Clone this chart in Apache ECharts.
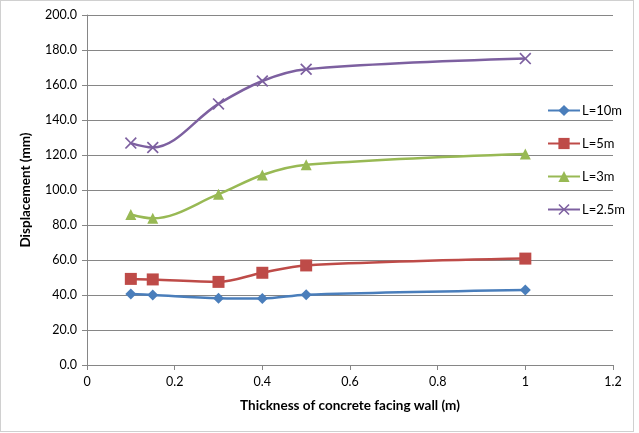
<!DOCTYPE html>
<html><head><meta charset="utf-8">
<script src="https://cdn.jsdelivr.net/npm/echarts@6/dist/echarts.min.js"></script>
<style>html,body{margin:0;padding:0;background:#fff}#c{width:639px;height:433px;position:absolute;left:0;top:0}#b{position:absolute;left:0;top:0;width:632px;height:430px;border:1px solid #d0d0d0;pointer-events:none}</style>
</head><body><div id="c"></div><div id="b"></div>
<script>
const xValues = [0.1, 0.15, 0.3, 0.4, 0.5, 1.0];
const seriesNames = ['L=10m', 'L=5m', 'L=3m', 'L=2.5m'];
const l10 = [40.6, 40.0, 38.2, 38.0, 40.2, 42.9];
const l5 = [49.2, 48.9, 47.5, 52.7, 56.9, 60.8];
const l3 = [86.0, 83.8, 97.6, 108.6, 114.4, 120.6];
const l25 = [126.8, 124.3, 149.2, 162.3, 169.0, 175.1];
const colors = ['#4A7EBB', '#BE4B48', '#98B954', '#7D60A0'];
const symbols = ['diamond', 'rect', 'triangle', 'path://M0,1L1,0L5,4L9,0L10,1L6,5L10,9L9,10L5,6L1,10L0,9L4,5Z'];
const sizes = [11, 12, 11, 12];
const allData = [l10, l5, l3, l25];
const font = 'Lato, "Open Sans", sans-serif';
const chart = echarts.init(document.getElementById('c'));
chart.setOption({
  animation: false,
  textStyle: {fontFamily: font},
  grid: {left: 87, right: 26, top: 15, bottom: 68},
  legend: {
    orient: 'vertical', left: 542, top: 99, itemGap: 20, itemWidth: 32, itemHeight: 14,
    textStyle: {fontSize: 13, color: '#000', fontFamily: font, padding: [0,0,0,-3]},
    data: seriesNames
  },
  xAxis: {
    type: 'value', min: 0, max: 1.2, interval: 0.2,
    name: 'Thickness of concrete facing wall (m)', nameLocation: 'middle', nameGap: 34,
    nameTextStyle: {fontWeight: 'bold', fontSize: 13.5, color: '#000', fontFamily: font},
    axisLine: {show: true, lineStyle: {color: '#868686'}},
    axisTick: {show: true, length: 5, lineStyle: {color: '#868686'}},
    axisLabel: {fontSize: 12.5, color: '#000', margin: 10, formatter: v => (Math.round(v*10)/10).toString()},
    splitLine: {show: false}
  },
  yAxis: {
    type: 'value', min: 0, max: 200, interval: 20,
    name: 'Displacement (mm)', nameLocation: 'middle', nameGap: 54,
    nameTextStyle: {fontWeight: 'bold', fontSize: 13.5, color: '#000', fontFamily: font},
    axisLine: {show: true, lineStyle: {color: '#868686'}},
    axisTick: {show: true, length: 5, lineStyle: {color: '#868686'}},
    axisLabel: {fontSize: 12.5, color: '#000', margin: 10, formatter: v => v.toFixed(1)},
    splitLine: {show: true, lineStyle: {color: '#868686', width: 1}}
  },
  series: allData.map((d, i) => ({
    name: seriesNames[i], type: 'line', smooth: 0.35,
    data: xValues.map((x, j) => [x, d[j]]),
    symbol: symbols[i], symbolSize: sizes[i],
    lineStyle: {color: colors[i], width: 2.5},
    itemStyle: {color: colors[i]}
  }))
});
</script></body></html>
